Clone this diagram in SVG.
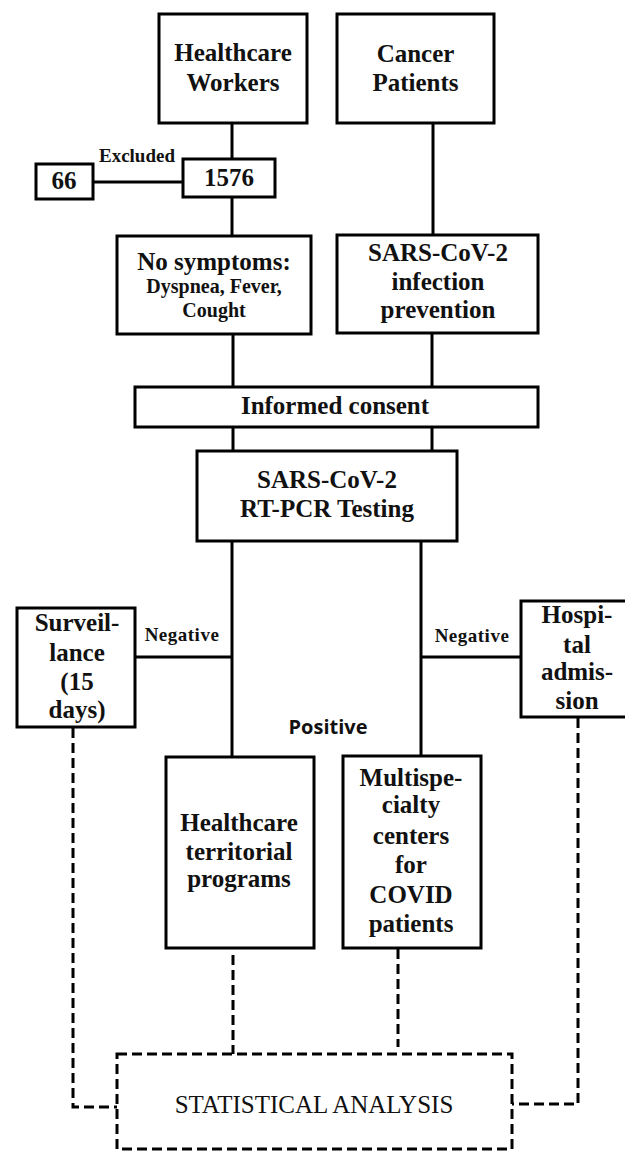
<svg xmlns="http://www.w3.org/2000/svg" width="625" height="1152" viewBox="0 0 625 1152">
<style>
.box{fill:#fff;stroke:#000;stroke-width:3}
.dbox{fill:none;stroke:#000;stroke-width:3;stroke-dasharray:10 5}
.ln{fill:none;stroke:#000;stroke-width:3}
.dl{fill:none;stroke:#000;stroke-width:3;stroke-dasharray:10 5}
.t{font-family:"Liberation Serif","Times New Roman",serif;font-weight:bold;font-size:25px;text-anchor:middle;fill:#111}
.s{font-family:"Liberation Serif","Times New Roman",serif;font-weight:bold;font-size:19px;text-anchor:middle;fill:#111}
.n{font-family:"Liberation Serif","Times New Roman",serif;font-weight:bold;font-size:19px;letter-spacing:0.5px;text-anchor:middle;fill:#111}
.p{font-family:"Open Sans","Liberation Sans",sans-serif;font-weight:bold;font-size:20px;text-anchor:middle;fill:#111}
.r{font-family:"Liberation Serif","Times New Roman",serif;font-size:25px;text-anchor:middle;fill:#111}
</style>
<rect width="625" height="1152" fill="#fff"/>
<g id="connectors">
<path class="ln" d="M232 123V159"/>
<path class="ln" d="M93 182H183"/>
<path class="ln" d="M232 197V236"/>
<path class="ln" d="M433 123V235"/>
<path class="ln" d="M233 334V387"/>
<path class="ln" d="M432 333V387"/>
<path class="ln" d="M233 427V451"/>
<path class="ln" d="M432 427V451"/>
<path class="ln" d="M232 541V757"/>
<path class="ln" d="M421 541V756"/>
<path class="ln" d="M135 657H232"/>
<path class="ln" d="M421 657H527"/>
<path class="dl" d="M73 728V1107H117"/>
<path class="dl" d="M578 718V1104H512"/>
<path class="dl" d="M233 955V1054"/>
<path class="dl" d="M398 949V1047"/>
<text class="s" x="137" y="162">Excluded</text>
<text class="n" x="182" y="641">Negative</text>
<text class="n" x="472" y="642">Negative</text>
<text class="p" x="328" y="734">Positive</text>
</g>
<g id="hw">
<rect class="box" x="159" y="14" width="148" height="109"/>
<text class="t" x="233" y="61">Healthcare</text>
<text class="t" x="233" y="91">Workers</text>
</g>
<g id="cancer">
<rect class="box" x="337" y="14" width="157" height="109"/>
<text class="t" x="415.5" y="62">Cancer</text>
<text class="t" x="415.5" y="91">Patients</text>
</g>
<g id="n1576">
<rect class="box" x="183" y="159" width="92" height="38"/>
<text class="t" x="229" y="186">1576</text>
</g>
<g id="n66">
<rect class="box" x="36" y="164" width="57" height="35"/>
<text class="t" x="64" y="189">66</text>
</g>
<g id="nosymptoms">
<rect class="box" x="117" y="236" width="194" height="98"/>
<text class="t" x="214" y="270">No symptoms:</text>
<text class="s" x="214" y="293" style="font-size:20px">Dyspnea, Fever,</text>
<text class="s" x="214" y="317" style="font-size:20px">Cought</text>
</g>
<g id="prevention">
<rect class="box" x="337" y="235" width="201" height="98"/>
<text class="t" x="438" y="261">SARS-CoV-2</text>
<text class="t" x="438" y="290">infection</text>
<text class="t" x="438" y="318">prevention</text>
</g>
<g id="consent">
<rect class="box" x="135" y="387" width="403" height="40"/>
<text class="t" x="335" y="414">Informed consent</text>
</g>
<g id="rtpcr">
<rect class="box" x="197" y="451" width="260" height="90"/>
<text class="t" x="327" y="488">SARS-CoV-2</text>
<text class="t" x="327" y="517">RT-PCR Testing</text>
</g>
<g id="surveillance">
<rect class="box" x="17" y="608" width="118" height="119"/>
<text class="t" x="77" y="631">Surveil-</text>
<text class="t" x="77" y="661">lance</text>
<text class="t" x="77" y="690">(15</text>
<text class="t" x="77" y="718">days)</text>
</g>
<g id="hospital">
<rect class="box" x="521" y="601" width="112" height="116"/>
<text class="t" x="577" y="623">Hospi-</text>
<text class="t" x="577" y="653">tal</text>
<text class="t" x="577" y="680">admis-</text>
<text class="t" x="577" y="709">sion</text>
</g>
<g id="territorial">
<rect class="box" x="166" y="757" width="148" height="191"/>
<text class="t" x="239" y="831">Healthcare</text>
<text class="t" x="239" y="860">territorial</text>
<text class="t" x="239" y="887">programs</text>
</g>
<g id="multispecialty">
<rect class="box" x="343" y="756" width="138" height="192"/>
<text class="t" x="411" y="786">Multispe-</text>
<text class="t" x="411" y="813">cialty</text>
<text class="t" x="411" y="844">centers</text>
<text class="t" x="411" y="873">for</text>
<text class="t" x="411" y="903">COVID</text>
<text class="t" x="411" y="932">patients</text>
</g>
<g id="statistical">
<rect class="dbox" x="117" y="1054" width="395" height="95"/>
<text class="r" x="314" y="1113">STATISTICAL ANALYSIS</text>
</g>
</svg>
